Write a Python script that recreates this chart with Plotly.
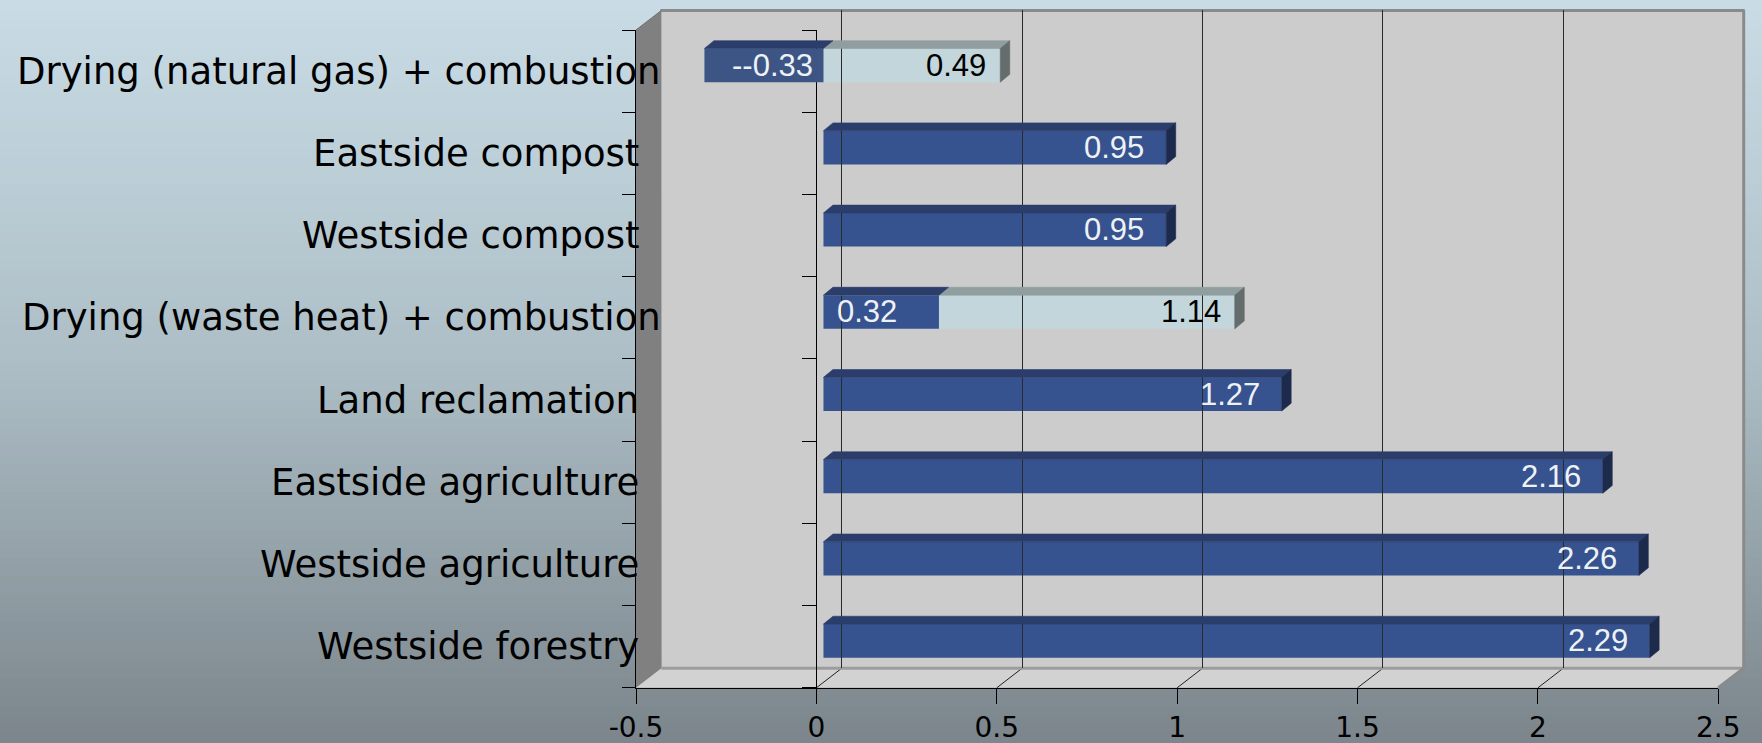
import plotly.graph_objects as go

# ---- data -------------------------------------------------------------
CATEGORIES = [
    "Drying (natural gas) + combustion",
    "Eastside compost",
    "Westside compost",
    "Drying (waste heat) + combustion",
    "Land reclamation",
    "Eastside agriculture",
    "Westside agriculture",
    "Westside forestry",
]
PRIMARY = [-0.33, 0.95, 0.95, 0.32, 1.27, 2.16, 2.26, 2.29]
SECONDARY = [0.49, None, None, 1.14, None, None, None, None]
X_TICKS = [-0.5, 0, 0.5, 1, 1.5, 2, 2.5]
X_TICK_LABELS = ["-0.5", "0", "0.5", "1", "1.5", "2", "2.5"]

# ---- page / box geometry (pixels) --------------------------------------
W, H = 1762, 743
FX0, FX1 = 636.0, 1718.3      # front plane, left/right
FY0, FY1 = 30.0, 687.8        # front plane, top/bottom
DX, DY = 25.4, 19.6           # depth of the box
BAR_SHIFT_X, BAR_SHIFT_Y = 7.1, 5.8   # bars sit slightly behind the front plane
BAR_DX, BAR_DY = 9.5, 7.8     # depth of each bar
BAR_WIDTH = 0.41
PX0, PX1, PY0, PY1 = 636.0, 1746.0, 9.0, 688.0   # plotting paper
PW, PH = PX1 - PX0, PY1 - PY0

XMIN, XMAX = X_TICKS[0], X_TICKS[-1]
N = len(CATEGORIES)
PXU = (FX1 - FX0) / (XMAX - XMIN)
PYU = (FY1 - FY0) / N

DARK_FRONT, DARK_NEG, DARK_TOP, DARK_SIDE = "#36528f", "#3c5584", "#2b3d6b", "#1c2a4b"
LIGHT_FRONT, LIGHT_TOP, LIGHT_SIDE = "#c3d6dc", "#919e9f", "#646c6c"
WALL, SIDE_WALL, FLOOR, EDGE = "#cccccc", "#808080", "#d2d2d2", "#8a8a8a"


def px(x):
    return (x - PX0) / PW


def py(y):
    return (PY1 - y) / PH


def dom_x(a, b):
    return [px(a), px(b)]


def dom_y(top, bottom):
    return [py(bottom), py(top)]


rows = list(range(N))
bounds = [i - 0.5 for i in range(N + 1)]
yrange = [N - 0.5, -0.5]

fig = go.Figure()

# anchor traces so every subplot is laid out
for xa, ya in (("x", "y"), ("x", "y4"), ("x3", "y3")):
    fig.add_trace(go.Scatter(x=[XMIN], y=[0], mode="markers", marker=dict(opacity=0),
                             hoverinfo="skip", showlegend=False, xaxis=xa, yaxis=ya))

# bar front faces
fig.add_trace(go.Bar(x=SECONDARY, y=rows, orientation="h", width=BAR_WIDTH,
                     marker=dict(color=LIGHT_FRONT, line=dict(width=0)),
                     hoverinfo="skip", showlegend=False, xaxis="x2", yaxis="y2"))
fig.add_trace(go.Bar(x=PRIMARY, y=rows, orientation="h", width=BAR_WIDTH,
                     marker=dict(color=[DARK_NEG if v < 0 else DARK_FRONT for v in PRIMARY],
                                 line=dict(width=0)),
                     hoverinfo="skip", showlegend=False, xaxis="x2", yaxis="y2"))

shapes = []

# background gradient
stops = [(0.0, (201, 220, 229)), (0.5, (172, 189, 197)), (1.0, (123, 133, 139))]


def grad(t):
    for (t0, c0), (t1, c1) in zip(stops[:-1], stops[1:]):
        if t <= t1:
            f = (t - t0) / (t1 - t0)
            return "rgb(%d,%d,%d)" % tuple(round(a + (b - a) * f) for a, b in zip(c0, c1))
    return "rgb(%d,%d,%d)" % stops[-1][1]


STRIPS = 80
for k in range(STRIPS):
    y0 = H * k / STRIPS
    y1 = H * (k + 1) / STRIPS + 1
    shapes.append(dict(type="rect", xref="paper", yref="paper", layer="below",
                       x0=px(-20), x1=px(W + 20), y0=py(y1), y1=py(y0),
                       fillcolor=grad((k + 0.5) / STRIPS), line=dict(width=0)))

BX0, BX1, BY0, BY1 = FX0 + DX, FX1 + DX, FY0 - DY, FY1 - DY


def poly(points, fill, line_color=None, width=0):
    path = "M " + " L ".join("%.5f,%.5f" % (px(a), py(b)) for a, b in points) + " Z"
    return dict(type="path", xref="paper", yref="paper", layer="below", path=path,
                fillcolor=fill, line=dict(width=width, color=line_color or fill))


def seg(a, b, color, width):
    return dict(type="line", xref="paper", yref="paper", layer="below",
                x0=px(a[0]), y0=py(a[1]), x1=px(b[0]), y1=py(b[1]),
                line=dict(color=color, width=width))


# back wall, side wall, floor
shapes.append(poly([(BX0, BY0), (BX1, BY0), (BX1, BY1), (BX0, BY1)], WALL))
shapes.append(poly([(FX0, FY0), (BX0, BY0), (BX0, BY1), (FX0, FY1)], SIDE_WALL))
shapes.append(poly([(FX0, FY1), (BX0, BY1), (BX1, BY1), (FX1, FY1)], FLOOR))
# floor grid lines
for v in X_TICKS[1:-1]:
    xf = FX0 + (v - XMIN) * PXU
    shapes.append(seg((xf, FY1), (xf + DX, BY1), "#202020", 1))
# box edges
shapes.append(seg((BX0, BY1), (BX1, BY1), "#9c9c9c", 3))
shapes.append(seg((BX1, BY1), (FX1, FY1), EDGE, 3))
shapes.append(seg((BX0 - 1, BY0), (BX1 + 1, BY0), EDGE, 3))
shapes.append(seg((BX1, BY0), (BX1, BY1), EDGE, 3))
shapes.append(seg((FX0, FY0), (BX0, BY0), "#707070", 1))

# bar top and side faces
ux = BAR_DX / PXU
uy = BAR_DY / PYU


def face(points, fill):
    path = "M " + " L ".join("%.5f,%.5f" % p for p in points) + " Z"
    return dict(type="path", xref="x2", yref="y2", layer="above", path=path,
                fillcolor=fill, line=dict(width=0.6, color=fill))


for i in rows:
    yt = i - BAR_WIDTH / 2
    yb = i + BAR_WIDTH / 2
    segs = []
    if SECONDARY[i] is not None:
        segs.append((min(0, SECONDARY[i]), max(0, SECONDARY[i]), LIGHT_TOP, LIGHT_SIDE))
    segs.append((min(0, PRIMARY[i]), max(0, PRIMARY[i]), DARK_TOP, DARK_SIDE))
    for a, b, top, _ in segs:
        shapes.append(face([(a, yt), (b, yt), (b + ux, yt - uy), (a + ux, yt - uy)], top))
    a, b, _, side = max(segs, key=lambda s: s[1])
    shapes.append(face([(b, yt), (b + ux, yt - uy), (b + ux, yb - uy), (b, yb)], side))

# ---- labels -------------------------------------------------------------
annotations = []
LABEL_FONT = dict(family="DejaVu Sans", size=37, color="#000000")
for i, name in enumerate(CATEGORIES):
    right = 663 if len(name) > 28 else 641
    annotations.append(dict(text=name, xref="paper", yref="y", x=px(right), y=i,
                            xanchor="right", yanchor="middle", showarrow=False,
                            font=LABEL_FONT))


def fmt(v):
    return ("-" if v < 0 else "") + "%.2f" % v


VALUE_FONT = "Liberation Sans"
for i in rows:
    p, s = PRIMARY[i], SECONDARY[i]
    light_font = dict(family=VALUE_FONT, size=31, color="#eef2f7")
    if p < 0:
        annotations.append(dict(text=fmt(p), xref="x2", yref="y2", x=0, y=i,
                                xanchor="right", xshift=-8, showarrow=False, font=light_font))
    elif s is not None:
        annotations.append(dict(text=fmt(p), xref="x2", yref="y2", x=0, y=i,
                                xanchor="left", xshift=12, showarrow=False, font=light_font))
    else:
        annotations.append(dict(text=fmt(p), xref="x2", yref="y2", x=p, y=i,
                                xanchor="right", xshift=-20, showarrow=False, font=light_font))
    if s is not None:
        annotations.append(dict(text=fmt(s), xref="x2", yref="y2", x=s, y=i,
                                xanchor="right", xshift=-12, showarrow=False,
                                font=dict(family=VALUE_FONT, size=31, color="#000000")))

hidden = dict(visible=False, showgrid=False, zeroline=False, automargin=False)

fig.update_layout(
    width=W, height=H, autosize=False,
    margin=dict(l=PX0, r=W - PX1, t=PY0, b=H - PY1, pad=0, autoexpand=False),
    paper_bgcolor="rgb(123,133,139)", plot_bgcolor="rgba(0,0,0,0)",
    barmode="overlay", showlegend=False,
    xaxis=dict(domain=dom_x(FX0, FX1), range=[XMIN, XMAX], anchor="y",
               tickmode="array", tickvals=X_TICKS, ticktext=X_TICK_LABELS,
               ticks="outside", ticklen=15, tickwidth=1, tickcolor="#000000",
               showline=True, linecolor="#000000", linewidth=1,
               showgrid=False, zeroline=False, automargin=False,
               tickfont=dict(family="DejaVu Sans", size=28, color="#000000")),
    yaxis=dict(domain=dom_y(FY0, FY1), range=yrange, anchor="x",
               tickmode="array", tickvals=bounds, showticklabels=False,
               ticks="outside", ticklen=13, tickwidth=1, tickcolor="#000000",
               showline=True, linecolor="#000000", linewidth=1,
               showgrid=False, zeroline=False, automargin=False),
    yaxis4=dict(overlaying="y", anchor="free", side="left",
                position=px(FX0 + (0 - XMIN) * PXU), range=yrange,
                tickmode="array", tickvals=bounds, showticklabels=False,
                ticks="outside", ticklen=14, tickwidth=1, tickcolor="#000000",
                showline=True, linecolor="#000000", linewidth=1,
                showgrid=False, zeroline=False, automargin=False),
    xaxis2=dict(domain=dom_x(FX0 + BAR_SHIFT_X, FX1 + BAR_SHIFT_X), range=[XMIN, XMAX],
                anchor="y2", **hidden),
    yaxis2=dict(domain=dom_y(FY0 - BAR_SHIFT_Y, FY1 - BAR_SHIFT_Y), range=yrange,
                anchor="x2", **hidden),
    xaxis3=dict(domain=dom_x(BX0, BX1), range=[XMIN, XMAX], anchor="y3",
                tickmode="array", tickvals=X_TICKS[1:-1], showticklabels=False,
                ticks="", showline=False, zeroline=False, automargin=False,
                showgrid=True, gridcolor="#2a2a2a", gridwidth=1),
    yaxis3=dict(domain=dom_y(BY0, BY1), range=yrange, anchor="x3", **hidden),
    shapes=shapes,
    annotations=annotations,
)

fig.write_html("out.html", config={"displayModeBar": False})
